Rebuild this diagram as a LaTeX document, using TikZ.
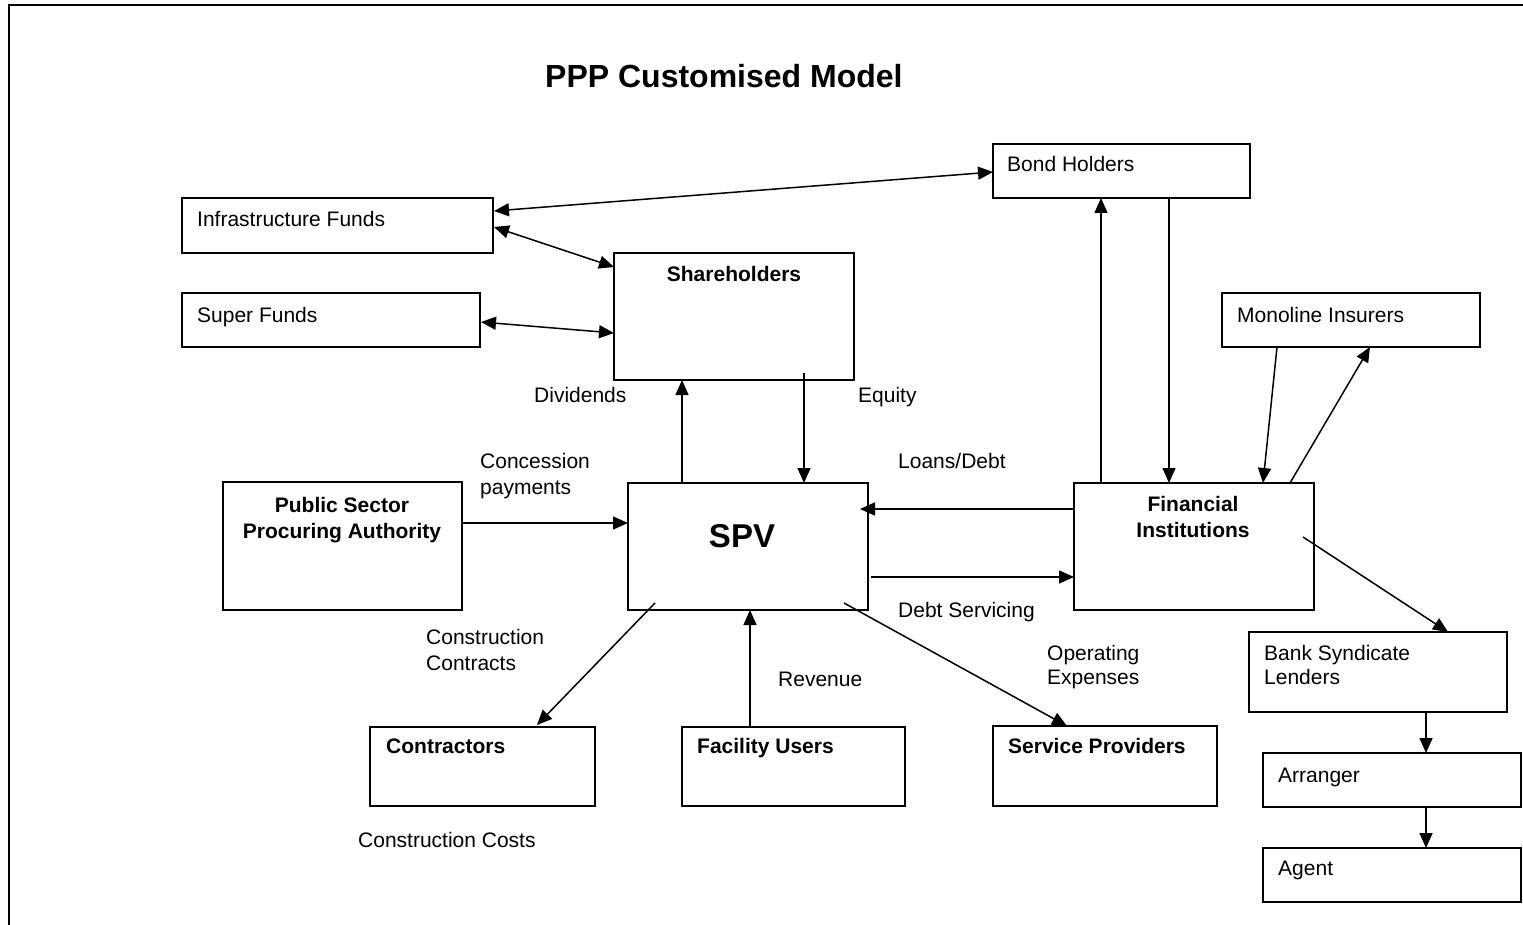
\documentclass[tikz,border=0pt]{standalone}
\usepackage{fontspec}
\setmainfont{Liberation Sans}
\usetikzlibrary{arrows.meta,calc}
\tikzset{
  box/.style={draw, line width=1.6pt, anchor=north west, inner sep=0pt, outer sep=0pt},
  lbl/.style={anchor=base west, inner sep=0pt, font=\fontsize{21}{26}\selectfont},
  blbl/.style={anchor=base, inner sep=0pt, font=\fontsize{21}{26}\selectfont\bfseries},
  bwlbl/.style={anchor=base west, inner sep=0pt, font=\fontsize{21}{26}\selectfont\bfseries},
  flow/.style={line width=1.5pt, -{Triangle[length=15pt,width=13pt]}},
  both/.style={line width=1.5pt, {Triangle[length=15pt,width=13pt]}-{Triangle[length=15pt,width=13pt]}}
}
\begin{document}
\begin{tikzpicture}[x=1pt,y=-1pt]
\useasboundingbox (0,0) rectangle (1523,925);
% page frame
\draw[line width=2.5pt] (1523,5) -- (9,5) -- (9,925);

% title
\node[anchor=base west, inner sep=0pt, font=\fontsize{32}{38}\selectfont\bfseries] (title) at (545,88) {PPP Customised Model};

% boxes
\node[box, minimum width=311pt, minimum height=55pt] (infra) at (182,198) {};
\node[box, minimum width=298pt, minimum height=54pt] (superf) at (182,293) {};
\node[box, minimum width=240pt, minimum height=127pt] (share) at (614,253) {};
\node[box, minimum width=257pt, minimum height=54pt] (bond) at (993,144) {};
\node[box, minimum width=258pt, minimum height=54pt] (mono) at (1222,293) {};
\node[box, minimum width=240pt, minimum height=127pt] (fin) at (1074,483) {};
\node[box, minimum width=240pt, minimum height=127pt] (spv) at (628,483) {};
\node[box, minimum width=239pt, minimum height=128pt] (psa) at (223,482) {};
\node[box, minimum width=225pt, minimum height=79pt] (contr) at (370,727) {};
\node[box, minimum width=223pt, minimum height=79pt] (users) at (682,727) {};
\node[box, minimum width=224pt, minimum height=80pt] (serv) at (993,726) {};
\node[box, minimum width=258pt, minimum height=80pt] (bank) at (1249,632) {};
\node[box, minimum width=258pt, minimum height=54pt] (arr) at (1263,753) {};
\node[box, minimum width=258pt, minimum height=54pt] (agent) at (1263,848) {};

% box texts
\node[lbl] (infraT) at (197,227) {Infrastructure Funds};
\node[lbl] (superT) at (197,322) {Super Funds};
\node[blbl] (shareT) at (734,282) {Shareholders};
\node[lbl] (bondT) at (1007,172) {Bond Holders};
\node[lbl] (monoT) at (1237,322) {Monoline Insurers};
\node[blbl] (finT1) at (1193,511) {Financial};
\node[blbl] (finT2) at (1193,537) {Institutions};
\node[anchor=base, inner sep=0pt, font=\fontsize{33}{40}\selectfont\bfseries] (spvT) at (742,547) {SPV};
\node[blbl] (psaT1) at (342,512) {Public Sector};
\node[blbl] (psaT2) at (342,538) {Procuring Authority};
\node[bwlbl] (contrT) at (386,753) {Contractors};
\node[bwlbl] (usersT) at (697,753) {Facility Users};
\node[bwlbl] (servT) at (1008,753) {Service Providers};
\node[lbl] (bankT1) at (1264,660) {Bank Syndicate};
\node[lbl] (bankT2) at (1264,684) {Lenders};
\node[lbl] (arrT) at (1278,782) {Arranger};
\node[lbl] (agentT) at (1278,875) {Agent};

% flow labels
\node[lbl] (divL) at (534,402) {Dividends};
\node[lbl] (eqL) at (858,402) {Equity};
\node[lbl] (concL1) at (480,468) {Concession};
\node[lbl] (concL2) at (480,494) {payments};
\node[lbl] (loanL) at (898,468) {Loans/Debt};
\node[lbl] (debtL) at (898,617) {Debt Servicing};
\node[lbl] (ccL1) at (426,644) {Construction};
\node[lbl] (ccL2) at (426,670) {Contracts};
\node[lbl] (revL) at (778,686) {Revenue};
\node[lbl] (opL1) at (1047,660) {Operating};
\node[lbl] (opL2) at (1047,684) {Expenses};
\node[lbl] (costL) at (358,847) {Construction Costs};

% connectors
\draw[both] ($(infra.north west)+(312,13)$) -- ($(bond.north west)+(0,28)$);
\draw[both] ($(infra.north west)+(312,29)$) -- ($(share.north west)+(0,14)$);
\draw[both] ($(superf.north west)+(299,29)$) -- ($(share.north west)+(0,80)$);
\draw[flow] ($(spv.north west)+(54,0)$) -- ($(share.north west)+(68,127)$);
\draw[flow] ($(share.north west)+(190,120)$) -- ($(spv.north west)+(176,0)$);
\draw[flow] ($(psa.north west)+(239,41)$) -- ($(spv.north west)+(0,40)$);
\draw[flow] ($(fin.north west)+(0,26)$) -- ($(spv.north west)+(232,26)$);
\draw[flow] ($(spv.north west)+(243,94)$) -- ($(fin.north west)+(0,94)$);
\draw[flow] ($(spv.north west)+(216,120)$) -- ($(serv.north west)+(74,0)$);
\draw[flow] ($(spv.north west)+(27,120)$) -- ($(contr.north west)+(167,-2)$);
\draw[flow] ($(users.north west)+(68,0)$) -- ($(spv.north west)+(122,127)$);
\draw[flow] ($(fin.north west)+(27,0)$) -- ($(bond.north west)+(108,54)$);
\draw[flow] ($(bond.north west)+(176,54)$) -- ($(fin.north west)+(95,0)$);
\draw[flow] ($(mono.north west)+(55,54)$) -- ($(fin.north west)+(189,0)$);
\draw[flow] ($(fin.north west)+(216,0)$) -- ($(mono.north west)+(148,54)$);
\draw[flow] ($(fin.north west)+(229,54)$) -- ($(bank.north west)+(199,0)$);
\draw[flow] ($(bank.north west)+(177,80)$) -- ($(arr.north west)+(163,0)$);
\draw[flow] ($(arr.north west)+(163,54)$) -- ($(agent.north west)+(163,0)$);
\end{tikzpicture}
\end{document}
